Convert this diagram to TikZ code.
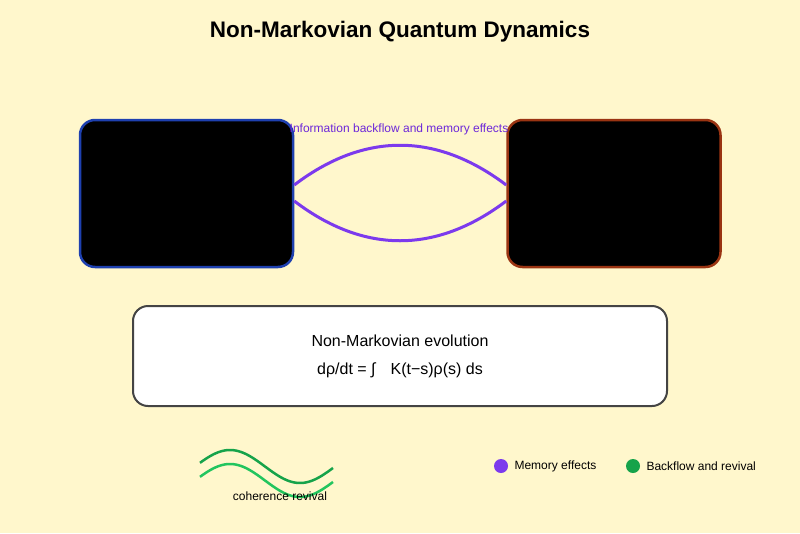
\documentclass[tikz,border=0pt]{standalone}
\usepackage{fontspec}
\setmainfont{Liberation Sans}
\usepackage{tikz}
\usetikzlibrary{calc}
\definecolor{hintergrund}{RGB}{255,247,204}
\definecolor{lila}{RGB}{124,58,237}
\definecolor{dunkellila}{RGB}{109,40,217}
\definecolor{blaurand}{RGB}{30,64,175}
\definecolor{braunrand}{RGB}{154,52,18}
\definecolor{grau}{RGB}{68,68,68}
\definecolor{gruen}{RGB}{22,163,74}
\definecolor{hellgruen}{RGB}{34,197,94}

\begin{document}
\begin{tikzpicture}[x=1pt,y=-1pt,
    kasten/.style={line width=2.5pt,rounded corners=15pt,fill=black,minimum width=213pt,minimum height=147pt,inner sep=0pt},
    klein/.style={font=\fontsize{12}{14}\selectfont}]
        \useasboundingbox (0,0) rectangle (800,533);
        \fill[hintergrund] (0,0) rectangle (800,533);
        \node[font=\bfseries\fontsize{22.5}{27}\selectfont] (T) at (400,32) {Non-Markovian Quantum Dynamics};
        \node[kasten,draw=blaurand] (A) at (186.5,193.5) {};
        \node[kasten,draw=braunrand] (B) at (614,193.5) {};
        \draw[lila,line width=3pt] ([yshift=8.5pt]A.east) .. controls (364,132) and (436,132) .. ([yshift=8.5pt]B.west);
        \draw[lila,line width=3pt] ([yshift=-7.5pt]A.east) .. controls (364,254) and (436,254) .. ([yshift=-7.5pt]B.west);
        \node[klein,text=dunkellila] (I) at (399,129) {Information backflow and memory effects};
        \node[draw=grau,fill=white,line width=2pt,rounded corners=15pt,minimum width=534pt,minimum height=100pt] (E) at (400,356) {};
        \node[font=\fontsize{16}{19}\selectfont] (E1) at (400,341) {Non-Markovian evolution};
        \node[font=\fontsize{16}{19}\selectfont] (E2) at (400,370) {dρ/dt = ∫\hspace{15pt}K(t−s)ρ(s) ds};
        \draw[gruen,line width=2.5pt,domain=200:333,samples=60] plot (\x,{466.5-16.5*sin((\x-230)*2.5714+90)});
        \draw[hellgruen,line width=2.5pt,domain=200:333,samples=60] plot (\x,{480.5-16.5*sin((\x-230)*2.5714+90)});
        \node[klein] (W) at (280,496) {coherence revival};
        \node[fill=lila,circle,minimum size=14pt,inner sep=0pt] (P1) at (501,466) {};
        \node[klein,anchor=west] (L1) at (511,466) {Memory effects};
        \node[fill=gruen,circle,minimum size=14pt,inner sep=0pt] (P2) at (633,466) {};
        \node[klein,anchor=west] (L2) at (643,466) {Backflow and revival};
\end{tikzpicture}
\end{document}
